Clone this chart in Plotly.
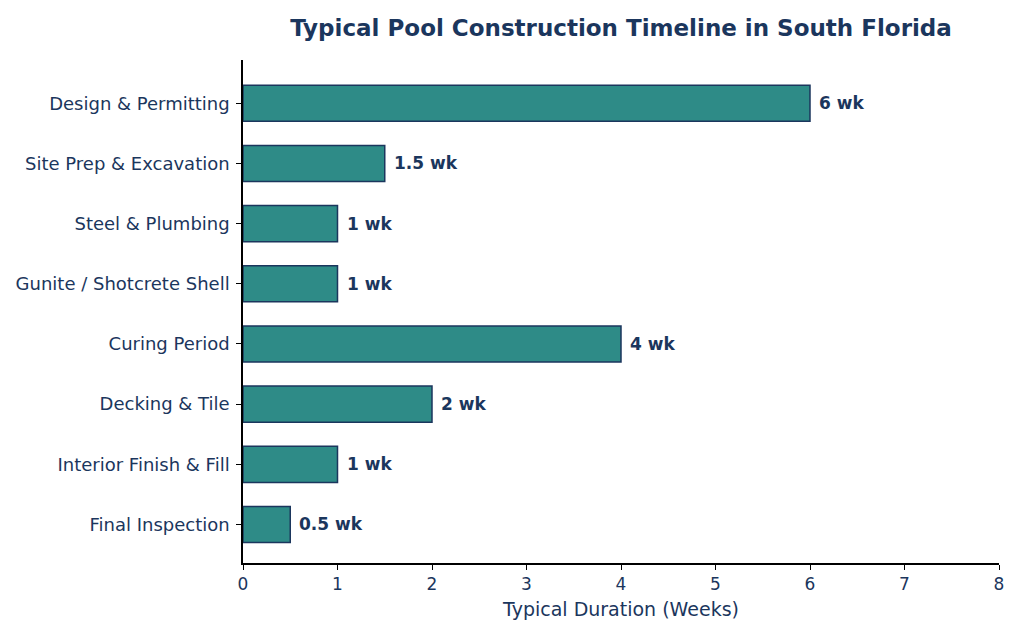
import plotly.graph_objects as go

# Pool construction phases and typical durations (weeks)
phases = [
    "Design & Permitting",
    "Site Prep & Excavation",
    "Steel & Plumbing",
    "Gunite / Shotcrete Shell",
    "Curing Period",
    "Decking & Tile",
    "Interior Finish & Fill",
    "Final Inspection",
]
weeks = [6, 1.5, 1, 1, 4, 2, 1, 0.5]
labels = ["6 wk", "1.5 wk", "1 wk", "1 wk", "4 wk", "2 wk", "1 wk", "0.5 wk"]

NAVY = "#1b365d"
TEAL = "#2e8b87"
FONT = "DejaVu Sans"

fig = go.Figure()
fig.add_trace(go.Bar(
    x=weeks,
    y=phases,
    orientation="h",
    width=0.6,
    marker=dict(color=TEAL, line=dict(color=NAVY, width=1.5)),
    hoverinfo="skip",
))

# value labels just past the end of each bar
for ph, w, lab in zip(phases, weeks, labels):
    fig.add_annotation(
        x=w, y=ph, text=f"<b>{lab}</b>", showarrow=False,
        xanchor="left", yanchor="middle", xshift=7,
        font=dict(family=FONT, size=17, color=NAVY),
    )

# page adds ~8px body margin, so margins are nudged to compensate
fig.update_layout(
    width=1024, height=640,
    plot_bgcolor="white", paper_bgcolor="white",
    margin=dict(l=235, r=33, t=52, b=85),
    showlegend=False,
    font=dict(family=FONT, color=NAVY),
    title=dict(
        text="<b>Typical Pool Construction Timeline in South Florida</b>",
        x=613 / 1024, xanchor="center", xref="container",
        y=1 - 20 / 640, yanchor="middle", yref="container",
        font=dict(family=FONT, size=23, color=NAVY),
    ),
)

fig.update_xaxes(
    range=[0, 8], dtick=1, showgrid=False, zeroline=False,
    showline=True, linecolor="black", linewidth=1.5,
    ticks="outside", ticklen=5, tickcolor="black",
    tickfont=dict(family=FONT, size=17, color=NAVY),
    title=dict(text="Typical Duration (Weeks)", standoff=10,
               font=dict(family=FONT, size=19, color=NAVY)),
)
fig.update_yaxes(
    categoryorder="array", categoryarray=phases,
    autorange=False, range=[7.64, -0.72],
    showgrid=False, zeroline=False, automargin=False,
    showline=True, linecolor="black", linewidth=1.5,
    ticks="outside", ticklen=5, tickcolor="black", ticklabelstandoff=3,
    tickfont=dict(family=FONT, size=18, color=NAVY),
)

fig.write_html("out.html")
